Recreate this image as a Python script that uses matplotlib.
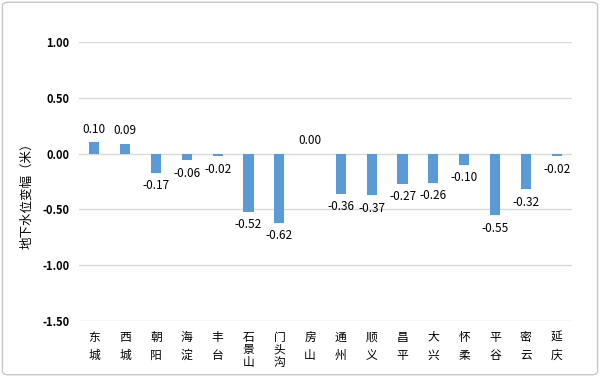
import numpy as np
import matplotlib.pyplot as plt
from matplotlib.patches import FancyBboxPatch

plt.rcParams['font.family'] = ['Noto Sans CJK SC', 'DejaVu Sans']

districts = ['东城', '西城', '朝阳', '海淀', '丰台', '石景山', '门头沟', '房山',
             '通州', '顺义', '昌平', '大兴', '怀柔', '平谷', '密云', '延庆']
change = [0.10, 0.09, -0.17, -0.06, -0.02, -0.52, -0.62, 0.00,
          -0.36, -0.37, -0.27, -0.26, -0.10, -0.55, -0.32, -0.02]
yticks = [1.0, 0.5, 0.0, -0.5, -1.0, -1.5]

fig = plt.figure(figsize=(6, 3.77), dpi=100)
ax = fig.add_axes([79/600, 1-321/377, (572-79)/600, (321-42)/377])

x = np.arange(len(districts))
ax.bar(x, change, width=0.33, color='#5B9BD5', zorder=3)

for xi, v in zip(x, change):
    if v >= 0:
        ax.text(xi, v + 0.06, f'{v:.2f}', ha='center', va='bottom', fontsize=8.5)
    else:
        ax.text(xi, v - 0.06, f'{v:.2f}', ha='center', va='top', fontsize=8.5)

ax.set_xlim(-0.5, len(districts) - 0.5)
ax.set_ylim(-1.5, 1.0)
ax.set_yticks(yticks)
ax.set_yticklabels([f'{t:.2f}' for t in yticks], fontsize=8, fontweight='bold')
ax.grid(axis='y', color='#d9d9d9', linewidth=1, zorder=0)
ax.set_xticks(x)
labels = ax.set_xticklabels(['\n'.join(d) for d in districts], fontsize=8.5, va='top')
for lab, d in zip(labels, districts):
    # short names are spread out, three-character names are packed tight
    lab.set_linespacing(1.55 if len(d) == 2 else 0.95)
ax.tick_params(axis='both', length=0)
ax.tick_params(axis='x', pad=7)
ax.tick_params(axis='y', pad=7)
for s in ax.spines.values():
    s.set_visible(False)

fig.text(27/600, 1 - 193/377, '地下水位变幅（米）', fontsize=9, rotation=90,
         ha='center', va='center')

border = FancyBboxPatch((0.004, 0.006), 0.992, 0.988, boxstyle='round,pad=0,rounding_size=0.01',
                        transform=fig.transFigure, facecolor='none',
                        edgecolor='#c8c8c8', linewidth=1)
fig.patches.append(border)

fig.savefig('out.png', dpi=100)
